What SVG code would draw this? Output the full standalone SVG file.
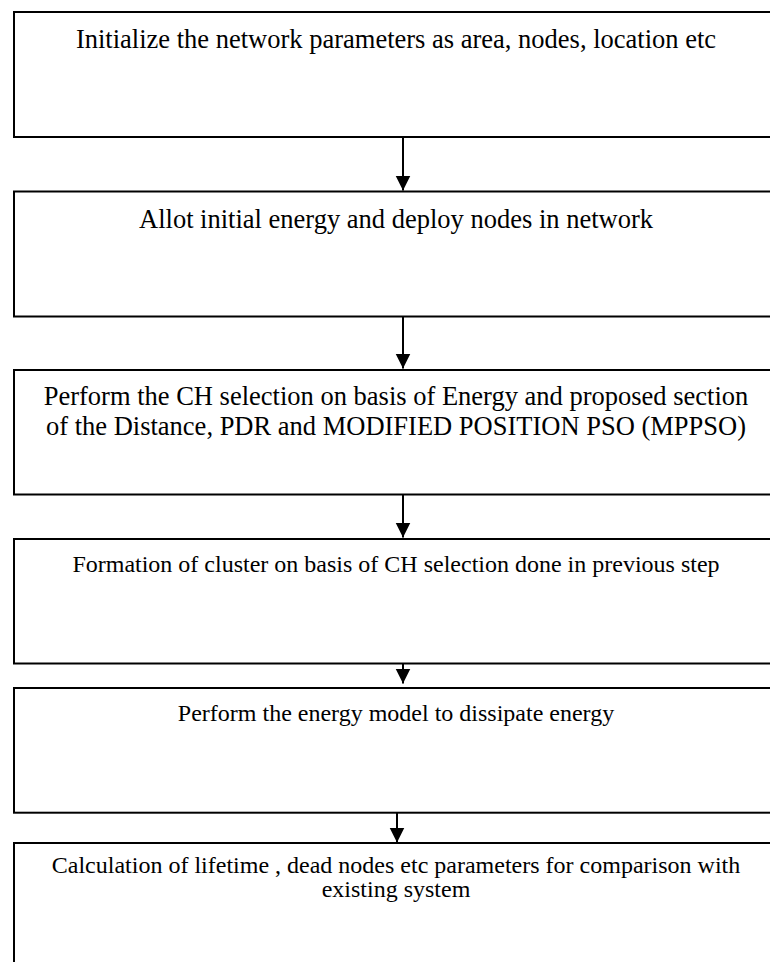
<svg xmlns="http://www.w3.org/2000/svg" width="770" height="962" viewBox="0 0 770 962">
<style>
.box{fill:#fff;stroke:#000;stroke-width:2}
.lbl{font-family:"Liberation Serif","Times New Roman",serif;fill:#000;text-anchor:middle}
.big{font-size:26.5px}
.sm{font-size:24px}
.conn{stroke:#000;stroke-width:2;fill:none}
</style>
<defs>
<marker id="ah" markerUnits="userSpaceOnUse" markerWidth="16" markerHeight="16" viewBox="0 0 16 16" refX="15" refY="8" orient="auto">
<path d="M0,0.5 L15,8 L0,15.5 Z" fill="#000"/>
</marker>
</defs>
<rect width="770" height="962" fill="#fff"/>
<g id="n1"><rect class="box" x="14" y="12" width="764" height="125"/>
<text class="lbl big" x="396" y="48">Initialize the network parameters as area, nodes, location etc</text></g>
<g id="n2"><rect class="box" x="14" y="191.5" width="764" height="125"/>
<text class="lbl big" x="396" y="228">Allot initial energy and deploy nodes in network</text></g>
<g id="n3"><rect class="box" x="14" y="370" width="764" height="124.5"/>
<text class="lbl big" x="396" y="405">Perform the CH selection on basis of Energy and proposed section</text>
<text class="lbl big" x="396" y="435">of the Distance, PDR and MODIFIED POSITION PSO (MPPSO)</text></g>
<g id="n4"><rect class="box" x="14" y="539" width="764" height="124.5"/>
<text class="lbl sm" x="396" y="572">Formation of cluster on basis of CH selection done in previous step</text></g>
<g id="n5"><rect class="box" x="14" y="688" width="764" height="124.7"/>
<text class="lbl sm" x="396" y="720.5">Perform the energy model to dissipate energy</text></g>
<g id="n6"><rect class="box" x="14" y="843" width="764" height="140"/>
<text class="lbl sm" x="396" y="872.5">Calculation of lifetime , dead nodes etc parameters for comparison with</text>
<text class="lbl sm" x="396" y="896.5">existing system</text></g>
<g id="connectors">
<line class="conn" x1="403" y1="137" x2="403" y2="190.5" marker-end="url(#ah)"/>
<line class="conn" x1="403" y1="316.5" x2="403" y2="368.5" marker-end="url(#ah)"/>
<line class="conn" x1="403" y1="494.5" x2="403" y2="537.5" marker-end="url(#ah)"/>
<line class="conn" x1="403" y1="663.5" x2="403" y2="683.5" marker-end="url(#ah)"/>
<line class="conn" x1="397" y1="812.7" x2="397" y2="842.5" marker-end="url(#ah)"/>
</g>
</svg>
